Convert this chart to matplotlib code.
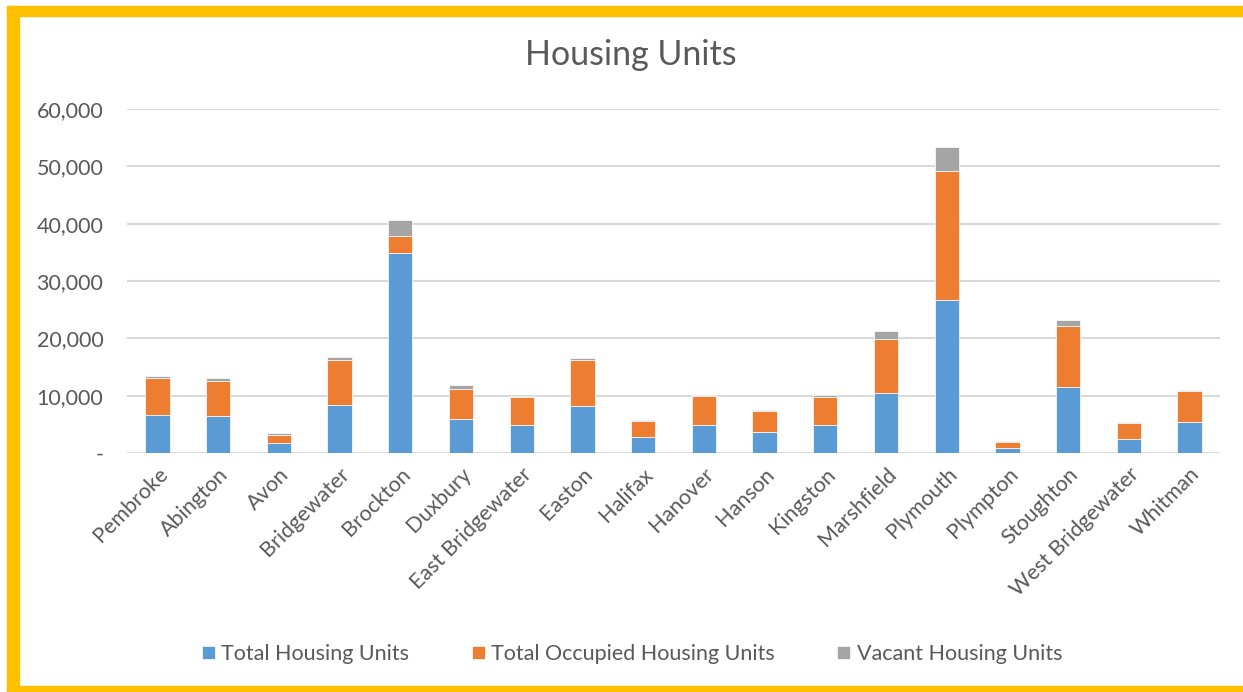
import matplotlib.pyplot as plt
import numpy as np
from matplotlib.patches import Rectangle

# Data
towns = ['Pembroke', 'Abington', 'Avon', 'Bridgewater', 'Brockton', 'Duxbury',
         'East Bridgewater', 'Easton', 'Halifax', 'Hanover', 'Hanson', 'Kingston',
         'Marshfield', 'Plymouth', 'Plympton', 'Stoughton', 'West Bridgewater', 'Whitman']
total_units = [6600, 6450, 1700, 8350, 34800, 5850, 4900, 8200, 2800, 4900, 3750, 4950,
               10450, 26600, 900, 11500, 2500, 5400]
occupied_units = [6550, 6150, 1500, 7950, 3100, 5250, 4850, 8050, 2850, 5050, 3650, 4750,
                  9400, 22500, 1100, 10700, 2700, 5400]
vacant_units = [250, 400, 300, 450, 2750, 700, 200, 350, 180, 100, 180, 400,
                1450, 4250, 120, 1000, 180, 180]

blue = '#5B9BD5'
orange = '#ED7D31'
gray = '#A5A5A5'
txt = '#595959'
font = ['Lato', 'DejaVu Sans']

W, H = 1243, 692
fig = plt.figure(figsize=(W / 100, H / 100), dpi=100)

# plot area in pixel coords
left, right, top, bottom = 127, 1220, 109, 453
ax = fig.add_axes([left / W, 1 - bottom / H, (right - left) / W, (bottom - top) / H])

x = np.arange(len(towns))
tot = np.array(total_units)
occ = np.array(occupied_units)
vac = np.array(vacant_units)
bw = 0.4
ax.bar(x, tot, bw, color=blue, edgecolor='white', linewidth=0.5, label='Total Housing Units', zorder=3)
ax.bar(x, occ, bw, bottom=tot, color=orange, edgecolor='white', linewidth=0.5,
       label='Total Occupied Housing Units', zorder=3)
ax.bar(x, vac, bw, bottom=tot + occ, color=gray, edgecolor='white', linewidth=0.5,
       label='Vacant Housing Units', zorder=3)

ax.set_xlim(-0.5, len(towns) - 0.5)
ax.set_ylim(0, 60000)
yt = np.arange(0, 60001, 10000)
ax.set_yticks(yt)
ax.set_yticklabels(['-'] + ['{:,}'.format(v) for v in yt[1:]], fontsize=15.5,
                   color=txt, family=font)
ax.set_xticks(x)
ax.set_xticklabels(towns, rotation=45, ha='right', rotation_mode='anchor',
                   fontsize=15.5, color=txt, family=font)
ax.tick_params(axis='both', length=0)
ax.tick_params(axis='y', pad=17)
ax.tick_params(axis='x', pad=8)
ax.grid(axis='y', color='#D9D9D9', linewidth=1.5, zorder=0)
for s in ax.spines.values():
    s.set_visible(False)

fig.text(631 / W, 1 - 55 / H, 'Housing Units', ha='center', va='center',
         fontsize=24.5, color=txt, family=font)

leg = fig.legend(loc='center', bbox_to_anchor=(632 / W, 1 - 654 / H), ncol=3, frameon=False,
                 prop={'family': font, 'size': 15.5}, handlelength=0.6, handleheight=0.6,
                 handletextpad=0.3, columnspacing=2.9)
for t in leg.get_texts():
    t.set_color(txt)

# gold frame (cut off on the right)
gold = '#FFC000'
fig.patches.append(Rectangle((7 / W, 0), 12 / W, 1 - 6 / H, transform=fig.transFigure,
                             color=gold, zorder=10))
fig.patches.append(Rectangle((7 / W, 1 - 16 / H), 1, 10 / H, transform=fig.transFigure,
                             color=gold, zorder=10))
fig.patches.append(Rectangle((7 / W, 0), 1, 6 / H, transform=fig.transFigure,
                             color=gold, zorder=10))

fig.savefig('out.png', dpi=100)
